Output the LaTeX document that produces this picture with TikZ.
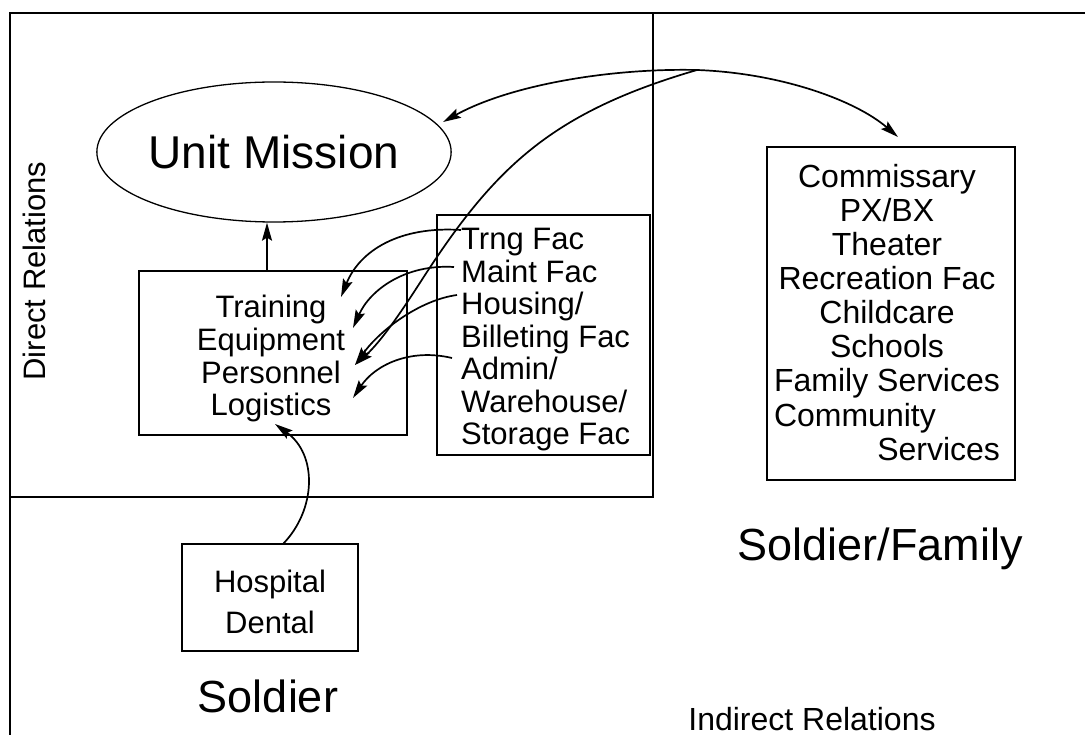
\documentclass[tikz,border=0pt]{standalone}
\usepackage{fontspec}
\setmainfont{Liberation Sans}
\usetikzlibrary{arrows.meta,shapes.geometric}
\begin{document}
\begin{tikzpicture}[x=1pt,y=-1pt,
  box/.style={draw, line width=1.3pt, inner sep=0pt},
  frame/.style={line width=1.3pt},
  conn/.style={line width=1.7pt, -{Stealth[length=18pt,width=10pt,inset=3pt]}},
  small/.style={inner sep=0pt, font=\fontsize{31}{32.5}\selectfont},
  big/.style={inner sep=0pt, font=\fontsize{45}{50}\selectfont},
]
\useasboundingbox (0,0) rectangle (1085,735);
\fill[white] (0,0) rectangle (1085,735);

% frame and dividers
\draw[frame] (10,735) -- (10,13) -- (1085,13);
\draw[frame] (653,13) -- (653,497) -- (10,497);

% nodes
\node[draw, ellipse, line width=1.3pt, minimum width=343, minimum height=140,
      inner sep=0pt, font=\fontsize{46}{50}\selectfont] (mission) at (274,152) {Unit Mission};

\node[box, minimum width=268, minimum height=164] (tepl) at (273,353) {};
\node[small, align=center, anchor=north, font=\fontsize{31}{32.7}\selectfont]
  (tepltext) at (271,295) {Training\\Equipment\\Personnel\\Logistics};

\node[box, minimum width=213, minimum height=240] (fac) at (543.5,335) {};
\node[small, align=left, anchor=north west] (factext) at (461,228)
  {Trng Fac\\Maint Fac\\Housing/\\Billeting Fac\\Admin/\\Warehouse/\\Storage Fac};

\node[box, minimum width=248, minimum height=333] (comm) at (891,313.5) {};
\node[inner sep=0pt, align=center, anchor=north, font=\fontsize{32}{34.1}\selectfont]
  (commtext) at (887,164)
  {Commissary\\PX/BX\\Theater\\Recreation Fac\\Childcare\\Schools\\Family Services\\
   \makebox[226pt][l]{Community}\\\makebox[226pt][r]{Services}};

\node[box, minimum width=176, minimum height=107] (hosp) at (270,597.5) {};
\node[inner sep=0pt, align=center, anchor=north, font=\fontsize{31}{41}\selectfont]
  (hosptext) at (270,569.5) {Hospital\\Dental};

\node[inner sep=0pt, rotate=90, font=\fontsize{31}{34}\selectfont] (direct) at (34,271) {Direct Relations};
\node[big, anchor=base] (sf) at (880,560) {Soldier/Family};
\node[big, anchor=base] (soldier) at (268,712) {Soldier};
\node[inner sep=0pt, anchor=base, font=\fontsize{32}{34}\selectfont] (indirect) at (812,730) {Indirect Relations};

% connector end points
\coordinate (hub) at (697,70);
\coordinate (mtip) at (443,122);
\coordinate (ctip) at (898,137);
\coordinate (trngS) at (461,230);
\coordinate (maintS) at (454,267);
\coordinate (housS) at (457,295);
\coordinate (adminS) at (452,358);
\coordinate (trainT) at (341,297);
\coordinate (equipT) at (353,328);
\coordinate (persT) at (355,365);
\coordinate (logT) at (353,398);
\coordinate (hospS) at (283,544);
\coordinate (logB) at (275,424);

% connectors
\draw[conn] ([xshift=-6pt]tepl.north) -- ([xshift=-7pt]mission.south);
\draw[conn] (hub) .. controls (610,68) and (510,85) .. (mtip);
\draw[conn] (hub) .. controls (780,73) and (855,100) .. (ctip);
\draw[conn] (hub) .. controls (553,112) and (496,166) .. (425,275)
            .. controls (412,295) and (385,338) .. (persT);
\draw[conn] (trngS) .. controls (400,226) and (360,250) .. (trainT);
\draw[conn] (maintS) .. controls (405,264) and (370,290) .. (equipT);
\draw[conn] (housS) .. controls (420,300) and (380,330) .. (persT);
\draw[conn] (adminS) .. controls (410,348) and (375,365) .. (logT);
\draw[conn] (hospS) .. controls (316,510) and (318,455) .. (logB);
\end{tikzpicture}
\end{document}
